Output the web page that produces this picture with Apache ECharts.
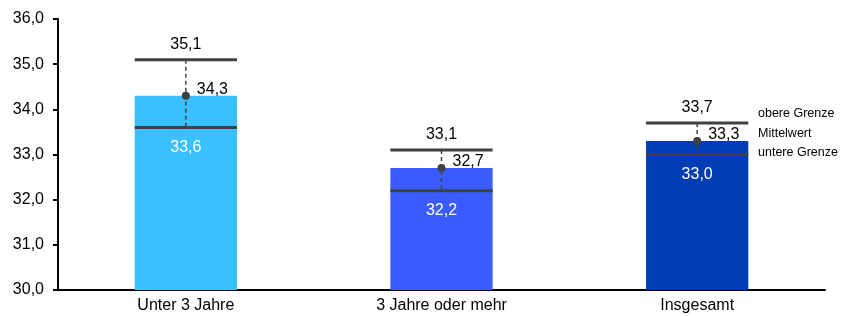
<!DOCTYPE html>
<html><head><meta charset="utf-8">
<script src="https://cdn.jsdelivr.net/npm/echarts@6/dist/echarts.min.js"></script>
<style>html,body{margin:0;padding:0;background:#fff}#c{width:854px;height:316px}</style>
</head><body><div id="c"></div>
<script>
const categories = ['Unter 3 Jahre', '3 Jahre oder mehr', 'Insgesamt'];
const meanValues = [34.3, 32.7, 33.3];
const upperValues = [35.1, 33.1, 33.7];
const lowerValues = [33.6, 32.2, 33.0];
const barColors = ['#3AC0FF', '#3A5CFF', '#003CB4'];
const legendLabels = ['obere Grenze', 'Mittelwert', 'untere Grenze'];
const yTicks = { min: 30, max: 36, interval: 1 };

const fmt = v => v.toFixed(1).replace('.', ',');
const FONT = 'Liberation Sans, Arial, sans-serif';
const chart = echarts.init(document.getElementById('c'));

const errData = categories.map((c, i) => [i, meanValues[i], upperValues[i], lowerValues[i]]);

chart.setOption({
  animation: false,
  grid: { left: 58, right: 29, top: 19, bottom: 26, containLabel: false },
  xAxis: {
    type: 'category', data: categories,
    axisLine: { lineStyle: { color: '#000', width: 2 } },
    axisTick: { show: false },
    axisLabel: { color: '#000', fontSize: 16, fontFamily: FONT, margin: 8 }
  },
  yAxis: {
    type: 'value', min: yTicks.min, max: yTicks.max, interval: yTicks.interval,
    splitLine: { show: false },
    axisLine: { show: true, lineStyle: { color: '#000', width: 2 } },
    axisTick: { show: true, length: 5, lineStyle: { color: '#000', width: 2 } },
    axisLabel: { color: '#000', fontSize: 16, fontFamily: FONT, margin: 14, formatter: v => fmt(v) }
  },
  series: [
    {
      type: 'bar', barWidth: '40%',
      data: meanValues.map((v, i) => ({ value: v, itemStyle: { color: barColors[i] } })),
      z: 1
    },
    {
      type: 'custom', z: 5,
      data: errData,
      encode: { x: 0, y: 1 },
      renderItem: function (params, api) {
        const idx = api.value(0);
        const pm = api.coord([idx, api.value(1)]);
        const pu = api.coord([idx, api.value(2)]);
        const pl = api.coord([idx, api.value(3)]);
        const bw = api.size([1, 0])[0] * 0.4;
        const x0 = pm[0] - bw / 2, x1 = pm[0] + bw / 2;
        const stroke = '#404040';
        const children = [
          { type: 'line', shape: { x1: pm[0], y1: pu[1], x2: pm[0], y2: pl[1] },
            style: { stroke: stroke, lineWidth: 1.5, lineDash: [4, 3] } },
          { type: 'line', shape: { x1: x0, y1: pu[1], x2: x1, y2: pu[1] },
            style: { stroke: stroke, lineWidth: 3 } },
          { type: 'line', shape: { x1: x0, y1: pl[1], x2: x1, y2: pl[1] },
            style: { stroke: stroke, lineWidth: 3 } },
          { type: 'circle', shape: { cx: pm[0], cy: pm[1], r: 4 },
            style: { fill: stroke } },
          { type: 'text', x: pm[0], y: pu[1] - 7,
            style: { text: fmt(api.value(2)), fill: '#000', font: '16px ' + FONT, align: 'center', verticalAlign: 'bottom' } },
          { type: 'text', x: pm[0] + 11, y: pm[1] - 6,
            style: { text: fmt(api.value(1)), fill: '#000', font: '16px ' + FONT, align: 'left', verticalAlign: 'middle' } },
          { type: 'text', x: pm[0], y: pl[1] + 20,
            style: { text: fmt(api.value(3)), fill: '#fff', font: '16px ' + FONT, align: 'center', verticalAlign: 'middle' } }
        ];
        return { type: 'group', children: children };
      }
    }
  ],
  graphic: legendLabels.map((t, i) => ({
    type: 'text', left: 758, top: [107, 127, 146][i],
    style: { text: t, fill: '#000', font: '12.5px ' + FONT }
  }))
});
</script></body></html>
